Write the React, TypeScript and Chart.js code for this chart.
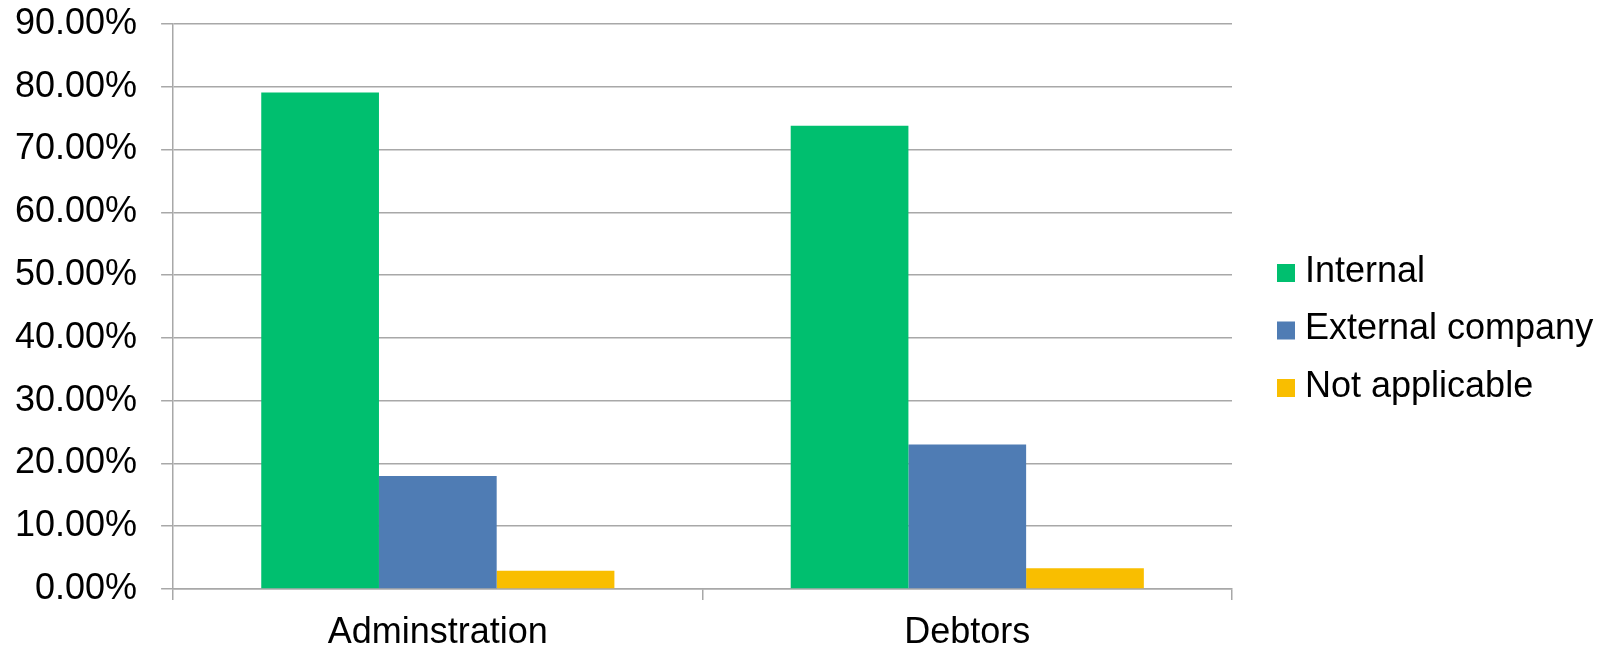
import React, { useEffect, useRef } from 'react';
import { Chart, registerables } from 'chart.js';

Chart.register(...registerables);

const categories = ['Adminstration', 'Debtors'];
const seriesNames = ['Internal', 'External company', 'Not applicable'];
const internalValues = [79.1, 73.8];
const externalValues = [18.0, 23.0];
const notApplicableValues = [2.9, 3.3];
const seriesColors = ['#00BF6F', '#4F7CB4', '#F9BE00'];
const yMax = 90;
const yStep = 10;

const FONT = "'Liberation Sans', Arial, sans-serif";
const GRID = '#A8A8A8';

export default function App() {
  const ref = useRef<HTMLCanvasElement>(null);

  useEffect(() => {
    if (!ref.current) return;
    const sideLegend = {
      id: 'sideLegend',
      afterDraw(chart: any) {
        const { ctx, chartArea } = chart;
        const items = chart.data.datasets;
        const rowGap = 57.5;
        const box = 18;
        const x0 = chartArea.right + 45;
        const cy = (chartArea.top + chartArea.bottom) / 2 + 23;
        const top = cy - (rowGap * (items.length - 1)) / 2;
        ctx.save();
        ctx.font = `36px ${FONT}`;
        ctx.textBaseline = 'middle';
        ctx.textAlign = 'left';
        items.forEach((d: any, i: number) => {
          const y = top + i * rowGap;
          ctx.fillStyle = d.backgroundColor;
          ctx.fillRect(x0, y - box / 2 + 1, box, box);
          ctx.fillStyle = '#000';
          ctx.fillText(d.label, x0 + box + 10, y);
        });
        ctx.restore();
      },
    };

    const values = [internalValues, externalValues, notApplicableValues];
    const chart = new Chart(ref.current, {
      type: 'bar',
      data: {
        labels: categories,
        datasets: seriesNames.map((name, i) => ({
          label: name,
          data: values[i],
          backgroundColor: seriesColors[i],
          borderWidth: 0,
          categoryPercentage: 0.667,
          barPercentage: 1,
        })),
      },
      options: {
        responsive: true,
        maintainAspectRatio: false,
        animation: false,
        layout: { padding: { left: -17, right: 374, top: 0, bottom: -15 } },
        plugins: { legend: { display: false }, tooltip: { enabled: false } },
        scales: {
          x: {
            grid: { drawOnChartArea: false, drawTicks: true, tickLength: 11, color: GRID, lineWidth: 1.5 },
            border: { display: true, color: GRID, width: 1.5 },
            ticks: { font: { family: FONT, size: 36, lineHeight: 1 }, color: '#000', padding: 15 },
          },
          y: {
            min: 0,
            max: yMax,
            ticks: {
              stepSize: yStep,
              callback: (v: any) => Number(v).toFixed(2) + '%',
              font: { family: FONT, size: 36, lineHeight: 1 },
              color: '#000',
              padding: 24,
            },
            grid: { color: GRID, tickLength: 12, lineWidth: 1.5 },
            border: { display: true, color: GRID, width: 1.5 },
          },
        },
      },
      plugins: [sideLegend],
    });
    return () => chart.destroy();
  }, []);

  return (
    <div style={{ position: 'absolute', left: '8px', top: '-18px', width: '1598px', height: '669px' }}>
      <canvas ref={ref} />
    </div>
  );
}
